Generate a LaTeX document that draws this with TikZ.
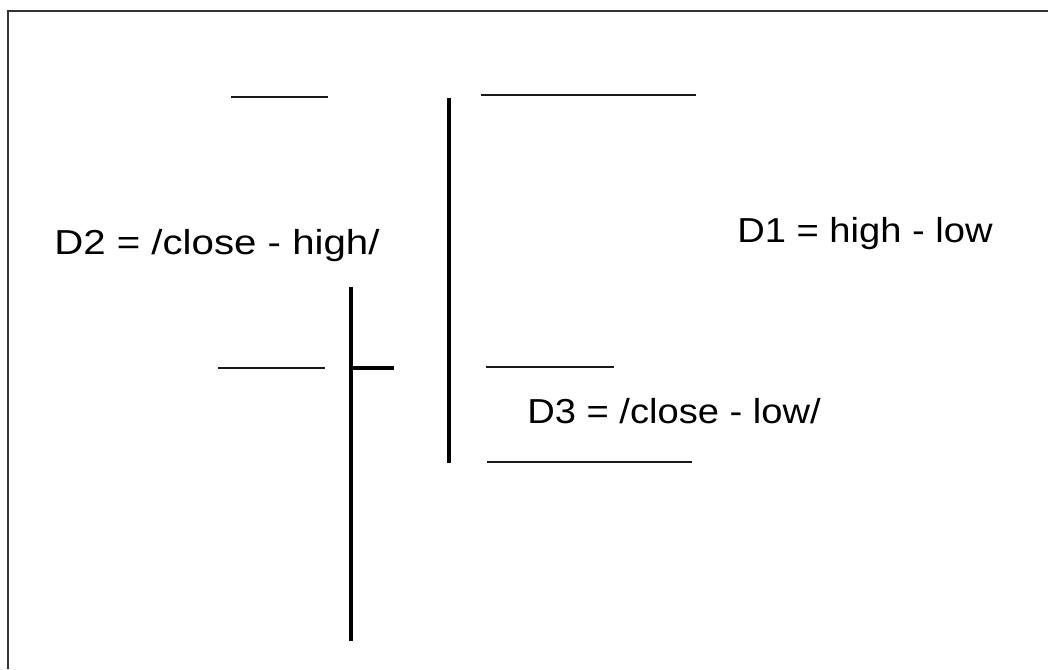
\documentclass[tikz,border=0pt]{standalone}
\usepackage{fontspec}
\newfontfamily\labfont[FakeStretch=1.1]{Liberation Sans}
\newfontfamily\labwidefont[FakeStretch=1.16]{Liberation Sans}
\begin{document}
\begin{tikzpicture}[x=0.75pt,y=-0.75pt,
  frameline/.style={draw=black!80,line width=1.8pt},
  thinline/.style={draw=black!90,line width=1.2pt},
  thickbar/.style={draw=black,line width=3.1pt},
  lab/.style={inner sep=0pt,anchor=base west,font=\labfont\fontsize{26}{30}\selectfont}]
\useasboundingbox (0,0) rectangle (1048,669);
\fill[white] (0,0) rectangle (1048,669);
% frame (top and left)
\coordinate (ftl) at (8,11);
\coordinate (ftr) at (1048,11);
\coordinate (fbl) at (8,669);
\draw[frameline] (ftr) -- (ftl) -- (fbl);
% tall bar
\coordinate (b1t) at (449,98);
\coordinate (b1b) at (449,463);
\draw[thickbar] (b1t) -- (b1b);
% second bar
\coordinate (b2t) at (351,287);
\coordinate (b2b) at (351,641);
\draw[thickbar] (b2t) -- (b2b);
\coordinate (tk) at (394,368);
\draw[thickbar] (351,368) -- (tk);
% level lines
\coordinate (l1a) at (231,97);  \coordinate (l1b) at (328,97);
\coordinate (l2a) at (481,95);  \coordinate (l2b) at (696,95);
\coordinate (l3a) at (218,368); \coordinate (l3b) at (325,368);
\coordinate (l4a) at (486,367); \coordinate (l4b) at (614,367);
\coordinate (l5a) at (487,462); \coordinate (l5b) at (692,462);
\draw[thinline] (l1a) -- (l1b);
\draw[thinline] (l2a) -- (l2b);
\draw[thinline] (l3a) -- (l3b);
\draw[thinline] (l4a) -- (l4b);
\draw[thinline] (l5a) -- (l5b);
% labels
\node[lab] (d1) at (737,242) {D1 = high - low};
\node[lab,font=\labwidefont\fontsize{26}{30}\selectfont] (d2) at (54,254) {D2 = /close - high/};
\node[lab] (d3) at (527,423) {D3 = /close - low/};
\end{tikzpicture}
\end{document}
